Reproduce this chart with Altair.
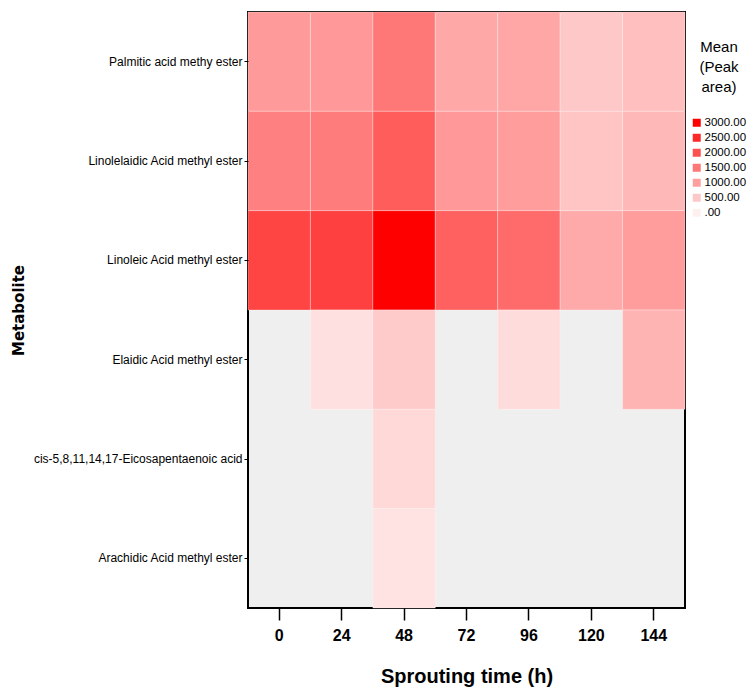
import altair as alt
import pandas as pd

metabolites = [
    "Palmitic acid methy  ester",
    "Linolelaidic Acid methyl ester",
    "Linoleic Acid methyl ester",
    "Elaidic Acid methyl ester",
    "cis-5,8,11,14,17-Eicosapentaenoic acid",
    "Arachidic Acid methyl ester",
]
times = ["0", "24", "48", "72", "96", "120", "144"]

# Mean peak area per metabolite (rows) and sprouting time (columns); None = no value (grey)
palmitic = [1075, 1090, 1500, 900, 920, 500, 610]
linolelaidic = [1400, 1450, 1850, 1090, 1050, 550, 700]
linoleic = [2150, 2200, 3000, 1800, 1675, 875, 1050]
elaidic = [None, 200, 475, None, 250, None, 750]
epa = [None, None, 300, None, None, None, None]
arachidic = [None, None, 175, None, None, None, None]

legend_values = [3000, 2500, 2000, 1500, 1000, 500, 0]

rows = [palmitic, linolelaidic, linoleic, elaidic, epa, arachidic]
records = []
for m, vals in zip(metabolites, rows):
    for t, v in zip(times, vals):
        if v is not None:
            records.append({"Metabolite": m, "Time": t, "Value": v})
df = pd.DataFrame(records)

FONT = "Liberation Sans"

chart = alt.Chart(df).mark_rect(stroke="#ffffff", strokeOpacity=0.3, strokeWidth=1).encode(
    x=alt.X(
        "Time:N",
        sort=times,
        scale=alt.Scale(domain=times, paddingInner=0, paddingOuter=0),
        axis=alt.Axis(
            title="Sprouting time (h)",
            labelAngle=0,
            labelFont=FONT,
            labelFontSize=16,
            labelFontWeight="bold",
            labelColor="#000000",
            labelPadding=7,
            tickSize=12,
            tickColor="#000000",
            tickWidth=1.5,
            domain=False,
            titleFont=FONT,
            titleFontSize=20,
            titleFontWeight="bold",
            titleColor="#000000",
            titleY=58,
            titleBaseline="top",
        ),
    ),
    y=alt.Y(
        "Metabolite:N",
        sort=metabolites,
        scale=alt.Scale(domain=metabolites, paddingInner=0, paddingOuter=0),
        axis=alt.Axis(
            title="Metabolite",
            labelFont=FONT,
            labelFontSize=12,
            labelColor="#000000",
            labelPadding=2,
            labelLimit=260,
            tickSize=4,
            tickColor="#000000",
            domain=False,
            titleFont="DejaVu Sans",
            titleFontSize=15,
            titleFontWeight="bold",
            titleColor="#000000",
            titleX=-230,
            titleY=298,
            titleAngle=-90,
            titleAlign="center",
            titleBaseline="middle",
        ),
    ),
    color=alt.Color(
        "Value:Q",
        scale=alt.Scale(domain=[0, 3000], range=["#fff0f0", "#ff0000"], interpolate="rgb"),
        legend=alt.Legend(
            type="symbol",
            title=["Mean", "(Peak", "area)"],
            titleFont=FONT,
            titleFontSize=15,
            titleFontWeight="normal",
            titleColor="#000000",
            titleAlign="center",
            titleAnchor="middle",
            titleLineHeight=20,
            titlePadding=22,
            values=legend_values,
            symbolType="square",
            symbolSize=64,
            symbolStrokeWidth=0,
            labelFont=FONT,
            labelFontSize=11.5,
            labelColor="#000000",
            labelOffset=2,
            labelExpr="datum.value == 0 ? '.00' : format(datum.value, '.2f')",
            rowPadding=2,
            orient="none",
            legendX=443,
            legendY=28,
        ),
    ),
).properties(
    width=437,
    height=596,
    autosize=alt.AutoSizeParams(type="none"),
    padding={"left": 248, "top": 12, "right": 63, "bottom": 87},
).configure(
    background="#ffffff",
).configure_view(
    fill="#efefef",
    stroke="#000000",
    strokeWidth=2,
)

chart.save("out.html", embed_options={"renderer": "svg", "actions": False})
